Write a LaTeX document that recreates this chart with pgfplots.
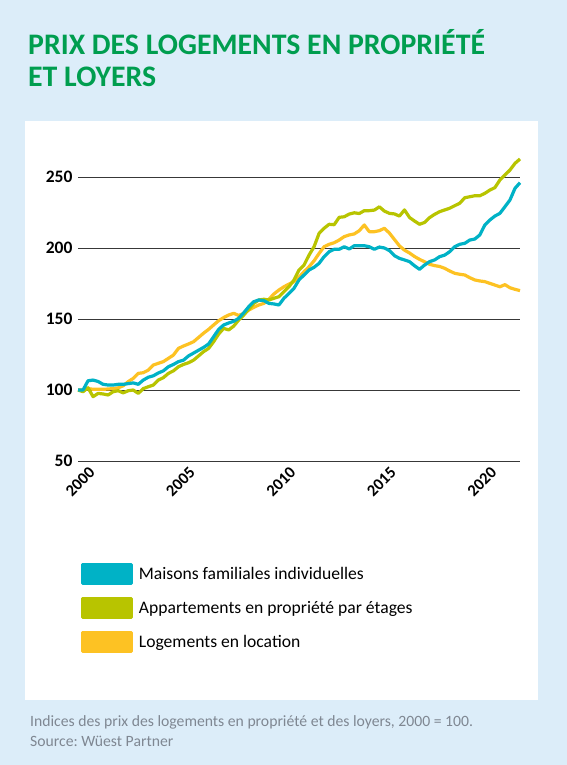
\documentclass[border=0pt]{standalone}
\usepackage{pgfplots}
\pgfplotsset{compat=1.18}
\usepackage{pgfplotstable}
\usepackage{fontspec}
\setmainfont{Carlito}
\frenchspacing
\definecolor{bgblue}{HTML}{DCEDF9}
\definecolor{titlegreen}{HTML}{009E4F}
\definecolor{cTeal}{HTML}{00B2C6}
\definecolor{cLime}{HTML}{B8C400}
\definecolor{cYellow}{HTML}{FDC223}
\definecolor{noteGray}{HTML}{7F8792}

\pgfplotstableread{
i maisons apparts location
0 100 100 100
1 100 98.8 100
2 106.5 101.6 101
3 107 95.3 100.5
4 106 97.6 100.5
5 104 97.2 100.5
6 103.5 96.5 100.7
7 103.5 98.8 101
8 104 99.5 101.5
9 104 98 103
10 104.5 99.5 105.9
11 105 100 108.2
12 104 97.6 111.7
13 107 101 112.2
14 109 102.3 114
15 110 103.5 117.6
16 112 107 118.8
17 113.5 108.7 120
18 116.4 111.7 122.3
19 118 113.5 124.6
20 120 116.4 129.3
21 121 118 131
22 124 119.2 132.4
23 126 121 134
24 128 124 137
25 130 127 140
26 132.4 129.3 142.7
27 137.5 134 145.8
28 142.7 139.4 148.8
29 145.8 143.4 151
30 147.2 142.3 152.8
31 148.4 145 154
32 150.5 149.3 152.5
33 154.4 152.8 154
34 158.7 156.8 156.3
35 162.2 161 158.2
36 163.4 163.4 159.9
37 162.9 163.9 161
38 161 163.4 163.9
39 160.6 164.6 167.6
40 159.9 165.7 170.4
41 164.6 169.2 172.7
42 168 172.7 174.6
43 171.6 177.5 176.3
44 177.5 184.5 179.4
45 181 188 183.3
46 184.5 195 186.8
47 186.4 200.9 191
48 189.2 210.3 196.2
49 193.9 213.9 200.9
50 197.4 216.7 202.6
51 199.1 216.4 203.7
52 199.1 221.6 205.6
53 200.9 222 208
54 199.3 223.9 209.2
55 201.6 224.8 209.9
56 201.6 224.3 212.2
57 201.6 226.3 216.2
58 200.9 226.3 211.5
59 199.1 226.7 211.5
60 200.7 229 212.2
61 200 226 213.9
62 198.2 224.4 210.5
63 194.6 224 206
64 192.7 222.5 201.5
65 191.6 226.8 198.5
66 190.4 221.5 196.5
67 187.5 219 194
68 185 216.7 192
69 188 218 190.3
70 190.4 221.4 188.5
71 191.6 223.7 187.6
72 193.9 225.6 187
73 195 226.8 185.7
74 197.4 228 183.8
75 200.9 229.8 182.2
76 202.6 231.5 181.5
77 203.3 235.4 181
78 205.6 236.1 179.1
79 206.3 236.8 177.5
80 209.2 236.8 176.8
81 216.2 238.5 176.3
82 219.7 240.8 175.1
83 222.5 242.5 173.9
84 224.4 247.9 172.7
85 229.1 251.4 174.2
86 233.8 254.9 172
87 242 259.6 170.9
88 246 262.7 170
}\datatable

\begin{document}
\begin{tikzpicture}[x=1pt,y=1pt]
\fill[bgblue] (0,0) rectangle (567,-765);
\fill[white] (25,-121) rectangle (538,-700);
\node[anchor=base west, inner sep=0pt, text=titlegreen, font=\fontsize{29.8}{32}\selectfont\bfseries] at (28,-55) {PRIX DES LOGEMENTS EN PROPRIÉTÉ};
\node[anchor=base west, inner sep=0pt, text=titlegreen, font=\fontsize{29.8}{32}\selectfont\bfseries] at (28,-87) {ET LOYERS};
\node[anchor=base west, inner sep=0pt, text=noteGray, font=\fontsize{15.7}{20}\selectfont] at (30,-726.5) {Indices des prix des logements en propriété et des loyers, 2000 = 100.};
\node[anchor=base west, inner sep=0pt, text=noteGray, font=\fontsize{15.7}{20}\selectfont] at (30,-746.5) {Source: Wüest Partner};
\begin{axis}[
  at={(78pt,-461pt)}, anchor=south west,
  scale only axis, width=442pt, height=305.3pt,
  xmin=2000, xmax=2022, ymin=50, ymax=265,
  clip=false,
  axis line style={draw=none},
  major tick length=0pt,
  ytick={50,100,150,200,250},
  ymajorgrids,
  grid style={black!78, line width=0.9pt},
  xtick={2000.5,2005.5,2010.5,2015.5,2020.5},
  xticklabels={2000,2005,2010,2015,2020},
  /pgf/number format/assume math mode=true,
  yticklabel style={font=\fontsize{17.5}{20}\selectfont\bfseries, anchor=east, xshift=-2pt},
  xticklabel style={font=\fontsize{16.5}{18}\selectfont\bfseries, rotate=45, anchor=north east},
  legend style={at={(axis description cs:0.0068,-0.334)}, anchor=north west,
    draw=none, fill=none, inner sep=0pt, row sep=11.5pt, column sep=5.5pt,
    font=\fontsize{17.6}{19}\selectfont, nodes={inner sep=0pt}},
  legend cell align=left,
  legend image code/.code={\fill[#1] (0pt,-9.5pt) rectangle (49pt,9.5pt);},
  reverse legend,
]
\addplot[cYellow, line width=3.2pt, line join=round] table[x expr=2000+0.25*\thisrow{i}, y=location] {\datatable};
\addlegendentry{Logements en location}
\addplot[cLime, line width=3.2pt, line join=round] table[x expr=2000+0.25*\thisrow{i}, y=apparts] {\datatable};
\addlegendentry{Appartements en propriété par étages}
\addplot[cTeal, line width=3.2pt, line join=round] table[x expr=2000+0.25*\thisrow{i}, y=maisons] {\datatable};
\addlegendentry{Maisons familiales individuelles}
\end{axis}
\end{tikzpicture}
\end{document}
